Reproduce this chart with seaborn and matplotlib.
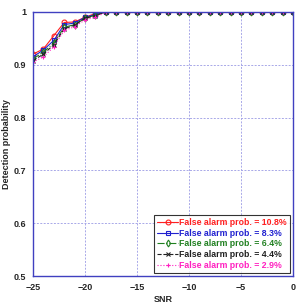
import numpy as np
import pandas as pd
import matplotlib
matplotlib.use("Agg")
import matplotlib.pyplot as plt
import seaborn as sns

snr = list(range(-25, 1))
tail = [1.0] * 18
pd_108 = [0.920, 0.930, 0.955, 0.980, 0.981, 0.990, 0.997] + [1.0] + tail
pd_83 = [0.915, 0.928, 0.946, 0.976, 0.979, 0.990, 0.995] + [1.0] + tail
pd_64 = [0.911, 0.924, 0.941, 0.971, 0.976, 0.988, 0.994] + [1.0] + tail
pd_44 = [0.908, 0.920, 0.938, 0.968, 0.975, 0.988, 0.993] + [1.0] + tail
pd_29 = [0.905, 0.915, 0.934, 0.965, 0.972, 0.985, 0.990] + [0.999] + tail

labels = ["False alarm prob. = 10.8%", "False alarm prob. = 8.3%",
          "False alarm prob. = 6.4%", "False alarm prob. = 4.4%",
          "False alarm prob. = 2.9%"]
series = [pd_108, pd_83, pd_64, pd_44, pd_29]
colors = ["#ff2020", "#2020d0", "#208020", "#202020", "#ff20c0"]
markers = ["o", "s", "d", "x", "+"]
styles = ["-", "-", "-.", "--", ":"]

sns.set_theme(style="white")
plt.rcParams["font.family"] = ["Liberation Sans", "DejaVu Sans"]

fig = plt.figure(figsize=(3.0, 3.06), dpi=100)
ax = fig.add_axes([0.11, 0.098, 0.867, 0.863])

for lab, vals, c, m, ls in zip(labels, series, colors, markers, styles):
    df = pd.DataFrame({"SNR": snr, "Pd": vals})
    sns.lineplot(data=df, x="SNR", y="Pd", ax=ax, color=c, marker=m,
                 linestyle=ls, linewidth=0.8, markersize=3.5,
                 markerfacecolor="none", markeredgecolor=c,
                 markeredgewidth=0.8, label=lab)

ax.set_xlim(-25, 0)
ax.set_ylim(0.5, 1.0)
ax.set_xticks([-25, -20, -15, -10, -5, 0])
ax.set_yticks([0.5, 0.6, 0.7, 0.8, 0.9, 1.0])
ax.set_yticklabels(["0.5", "0.6", "0.7", "0.8", "0.9", "1"])
ax.grid(True, color="#a8a8e8", linestyle=(0, (2, 1.5)), linewidth=0.7)
for s in ax.spines.values():
    s.set_color("#4040c0")
    s.set_linewidth(1.0)
ax.tick_params(axis="both", labelsize=6.5, length=0, pad=5)
for t in ax.get_xticklabels() + ax.get_yticklabels():
    t.set_fontweight("bold")
ax.set_xlabel("SNR", fontsize=6.5, fontweight="bold", labelpad=2)
ax.set_ylabel("Detection probability", fontsize=6.5, fontweight="bold", labelpad=2)

leg = ax.legend(loc="lower right", fontsize=6.3, frameon=True, fancybox=False,
                handlelength=2.3, handletextpad=0.2, borderpad=0.35,
                labelspacing=0.2, borderaxespad=0.35)
leg.get_frame().set_edgecolor("black")
leg.get_frame().set_linewidth(0.8)
for txt, c in zip(leg.get_texts(), colors):
    txt.set_color(c)
    txt.set_fontweight("bold")

fig.savefig("out.png", dpi=100)
